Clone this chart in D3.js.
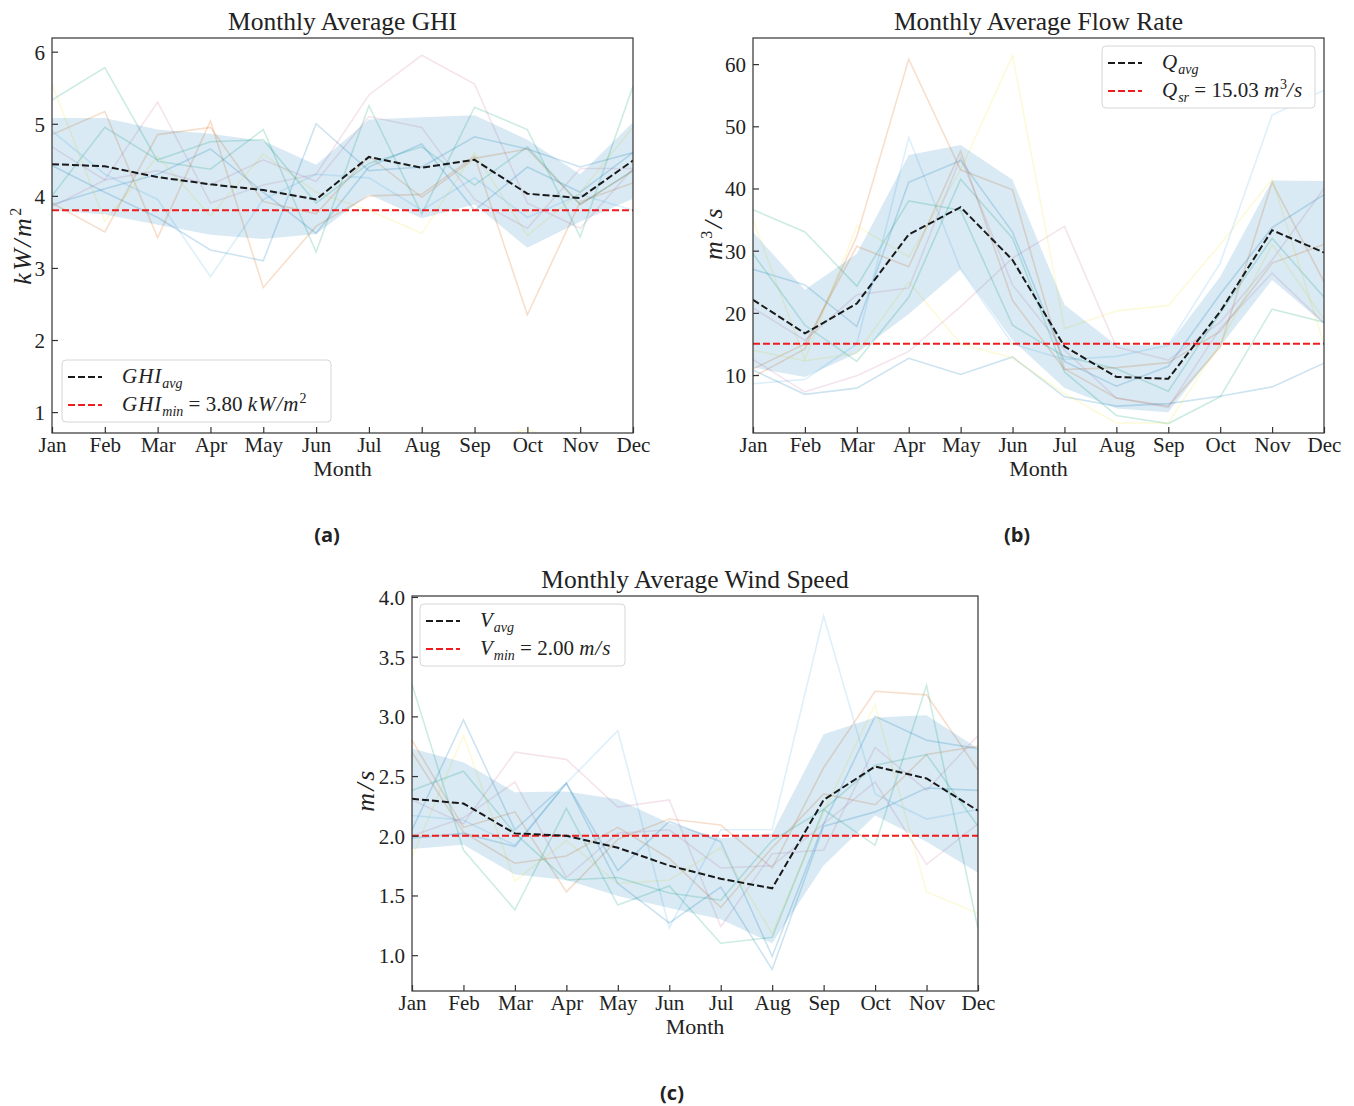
<!DOCTYPE html>
<html>
<head>
<meta charset="utf-8">
<script src="https://cdn.jsdelivr.net/npm/d3@7"></script>
<style>
  html, body { margin: 0; padding: 0; background: #fff; }
  svg text { font-family: "Liberation Serif", "DejaVu Serif", serif; fill: #222; }
  .cap { font-family: "Open Sans", "DejaVu Sans", sans-serif !important; font-weight: 700; }
</style>
</head>
<body>
<div id="app"></div>
<script>
// ---- data ----
const months = ['Jan', 'Feb', 'Mar', 'Apr', 'May', 'Jun', 'Jul', 'Aug', 'Sep', 'Oct', 'Nov', 'Dec'];

// (a) GHI, kW/m2
const ghiAvg = [4.44, 4.41, 4.26, 4.16, 4.08, 3.95, 4.54, 4.39, 4.50, 4.03, 3.97, 4.49];
const ghiStd = [0.64, 0.67, 0.66, 0.70, 0.68, 0.48, 0.52, 0.70, 0.62, 0.75, 0.33, 0.53];
const ghiYears = [
	[3.88, 4.10, 4.30, 4.65, 4.05, 3.48, 4.40, 4.72, 3.80, 4.40, 4.05, 4.60],
	[5.33, 5.78, 4.48, 4.37, 4.92, 3.22, 5.25, 3.75, 5.23, 4.92, 3.43, 5.52],
	[4.85, 5.17, 3.42, 5.04, 2.73, 3.58, 4.00, 4.02, 4.55, 2.35, 3.92, 4.18],
	[4.68, 4.22, 5.30, 3.90, 4.15, 4.30, 5.40, 5.95, 5.55, 3.90, 3.55, 4.38],
	[5.55, 3.65, 4.55, 3.72, 4.58, 4.05, 3.80, 3.48, 4.60, 3.45, 4.05, 4.95],
	[4.90, 4.30, 3.95, 2.88, 3.95, 4.30, 4.25, 3.80, 4.25, 3.70, 4.02, 3.80],
	[4.42, 4.05, 3.70, 3.25, 3.10, 5.00, 4.35, 4.40, 4.82, 4.65, 4.40, 4.60],
	[4.00, 4.95, 4.50, 4.75, 4.78, 3.90, 4.45, 4.68, 4.15, 4.68, 3.88, 4.35],
	[3.90, 3.50, 4.85, 4.95, 3.92, 3.75, 4.55, 3.98, 4.52, 4.65, 3.88, 4.35],
	[3.85, 4.22, 4.35, 4.15, 4.50, 4.20, 5.10, 4.95, 3.95, 3.55, 4.38, 4.38],
	[0.40, 0.40, 0.40, 0.40, 0.40, 0.40, 0.40, 0.40, 0.58, 0.76, 0.50, 0.40]
];
const ghiMin = 3.80;
const ghiTicks = [1, 2, 3, 4, 5, 6];

// (b) flow rate, m3/s
const flowAvg = [22.1, 16.7, 21.5, 32.6, 37.0, 28.5, 14.6, 9.7, 9.4, 20.2, 33.3, 29.7];
const flowStd = [10.9, 7.0, 8.0, 12.8, 10.0, 12.9, 6.7, 5.1, 5.4, 5.6, 8.0, 11.5];
const flowYears = [
	[27.0, 24.5, 17.8, 41.0, 44.5, 33.0, 12.2, 8.2, 11.4, 23.0, 33.7, 39.0],
	[36.6, 33.0, 24.3, 38.0, 36.5, 18.0, 13.0, 11.0, 7.4, 20.0, 32.0, 22.5],
	[9.7, 14.2, 32.3, 60.8, 43.0, 39.8, 11.0, 6.3, 5.0, 14.5, 41.0, 25.0],
	[12.5, 7.3, 9.9, 13.8, 21.0, 28.8, 33.9, 14.5, 12.4, 18.5, 28.5, 40.0],
	[35.0, 12.5, 34.0, 29.0, 43.0, 61.4, 17.5, 20.3, 21.2, 31.0, 41.5, 15.0],
	[8.6, 9.3, 15.0, 48.2, 27.0, 15.0, 12.5, 13.0, 14.8, 28.0, 51.8, 55.8],
	[10.8, 6.9, 7.9, 12.7, 10.1, 12.9, 6.5, 5.0, 5.4, 6.6, 8.1, 11.9],
	[29.5, 18.0, 12.2, 22.5, 41.5, 32.0, 10.5, 3.5, 2.2, 6.5, 20.6, 18.5],
	[11.0, 15.0, 30.7, 27.4, 46.0, 22.0, 10.9, 11.2, 12.0, 17.0, 28.0, 31.0],
	[20.8, 15.6, 22.9, 24.0, 45.0, 24.5, 14.0, 6.3, 4.8, 17.5, 26.4, 18.4],
	[14.0, 12.3, 13.5, 25.0, 15.0, 12.8, 7.0, 2.3, 2.3, 15.0, 31.0, 19.0]
];
const flowSr = 15.03;
const flowTicks = [10, 20, 30, 40, 50, 60];

// (c) wind speed, m/s
const windAvg = [2.31, 2.27, 2.02, 2.00, 1.90, 1.75, 1.64, 1.56, 2.30, 2.58, 2.48, 2.21];
const windStd = [0.42, 0.345, 0.345, 0.37, 0.405, 0.355, 0.34, 0.46, 0.55, 0.41, 0.53, 0.52];
const windYears = [
	[2.05, 2.97, 2.05, 2.44, 1.71, 2.12, 1.95, 0.99, 2.10, 3.00, 2.80, 2.73],
	[3.27, 1.88, 1.38, 2.23, 1.42, 1.58, 1.10, 1.15, 2.22, 1.92, 3.26, 1.22],
	[2.80, 2.07, 2.20, 1.53, 1.97, 2.14, 2.09, 1.73, 2.57, 3.21, 3.18, 2.55],
	[2.30, 2.10, 2.70, 2.64, 2.24, 2.30, 1.24, 1.85, 1.88, 2.74, 2.38, 2.84],
	[1.82, 2.84, 1.62, 1.96, 1.60, 1.63, 1.90, 1.18, 2.20, 3.10, 1.53, 1.35],
	[2.17, 2.13, 1.92, 2.44, 2.88, 1.23, 2.05, 2.05, 3.84, 2.35, 2.14, 2.22],
	[1.98, 2.02, 1.91, 2.44, 1.60, 1.27, 1.57, 0.88, 2.08, 2.20, 2.40, 2.38],
	[2.38, 2.54, 2.02, 1.63, 1.65, 1.52, 1.46, 1.96, 2.22, 2.59, 2.68, 2.08],
	[2.70, 2.03, 1.77, 1.83, 2.07, 1.81, 1.40, 1.90, 2.35, 2.26, 2.68, 2.75],
	[2.00, 2.15, 2.45, 1.65, 2.02, 2.05, 1.73, 1.75, 2.10, 2.45, 1.76, 2.10]
];
const windMin = 2.00;
const windTicks = [1.0, 1.5, 2.0, 2.5, 3.0, 3.5, 4.0];

// seaborn colorblind cycle
const palette = ['#0072B2', '#009E73', '#D55E00', '#CC79A7', '#F0E442', '#56B4E9'];

const W = 1354, H = 1106;
const EQ = '\u2005=\u2005';
const SP = '\u2005';
const svg = d3.select('#app').append('svg')
	.attr('width', W)
	.attr('height', H)
	.attr('viewBox', `0 0 ${W} ${H}`);
svg.append('rect').attr('width', W).attr('height', H).attr('fill', '#fff');

// legend label: base (italic), subscript, rest (array of [text, italic, sup])
function mathLabel (sel, base, sub, rest) {
	sel.append('tspan').attr('font-style', 'italic').attr('letter-spacing', 1).text(base);
	sel.append('tspan').attr('font-style', 'italic').attr('font-size', 14).attr('dy', 5).text(sub);
	let dy = -5;
	(rest || []).forEach(([t, it, sup]) => {
		let ts = sel.append('tspan').text(t);
		if (it) ts.attr('font-style', 'italic').attr('letter-spacing', 1);
		if (sup) {
			ts.attr('font-size', 14).attr('dy', dy - 8);
			dy = 8;
		} else {
			ts.attr('dy', dy);
			dy = 0;
		}
	});
}

function drawPanel (cfg) {
	const { left, top, width, height } = cfg;
	const g = svg.append('g').attr('transform', `translate(${left},${top})`);

	const x = d3.scalePoint().domain(months).range([0, width]);
	const y = d3.scaleLinear().domain(cfg.domain).range([height, 0]);

	const clipId = 'clip-' + cfg.id;
	g.append('clipPath').attr('id', clipId)
		.append('rect').attr('width', width).attr('height', height);
	const plot = g.append('g').attr('clip-path', `url(#${clipId})`);

	// individual years
	const line = d3.line().x((d, i) => x(months[i])).y(d => y(d));
	plot.selectAll('path.year')
		.data(cfg.years)
		.enter().append('path')
			.attr('class', 'year')
			.attr('d', line)
			.attr('fill', 'none')
			.attr('stroke', (d, i) => palette[i % palette.length])
			.attr('stroke-opacity', 0.2)
			.attr('stroke-width', 1.6);

	// mean +/- std band
	const area = d3.area()
		.x((d, i) => x(months[i]))
		.y0((d, i) => y(d - cfg.std[i]))
		.y1((d, i) => y(d + cfg.std[i]));
	plot.append('path')
		.attr('d', area(cfg.avg))
		.attr('fill', '#0072B2')
		.attr('fill-opacity', 0.15);

	// threshold + avg
	plot.append('line')
		.attr('x1', 0).attr('x2', width)
		.attr('y1', y(cfg.threshold)).attr('y2', y(cfg.threshold))
		.attr('stroke', '#ee1c1c')
		.attr('stroke-width', 2)
		.attr('stroke-dasharray', '7,3');
	plot.append('path')
		.attr('d', line(cfg.avg))
		.attr('fill', 'none')
		.attr('stroke', '#1a1a1a')
		.attr('stroke-width', 2)
		.attr('stroke-dasharray', '7,3');

	// axes, ticks pointing in
	const xAxis = d3.axisBottom(x).tickSizeInner(-6).tickSizeOuter(0).tickPadding(4);
	const yAxis = d3.axisLeft(y).tickValues(cfg.ticks).tickFormat(cfg.fmt)
		.tickSizeInner(-6).tickSizeOuter(0).tickPadding(7);
	const gx = g.append('g').attr('transform', `translate(0,${height})`).call(xAxis);
	const gy = g.append('g').call(yAxis);
	[gx, gy].forEach(a => {
		a.select('.domain').remove();
		a.selectAll('line').attr('stroke', '#333').attr('stroke-width', 1.2);
		a.selectAll('text')
			.attr('font-family', '"Liberation Serif", serif')
			.attr('font-size', 21)
			.attr('fill', '#222');
	});
	gx.selectAll('text').attr('dy', '0.72em');
	gy.selectAll('text').attr('dy', '0.35em');

	g.append('rect')
		.attr('width', width).attr('height', height)
		.attr('fill', 'none').attr('stroke', '#333').attr('stroke-width', 1.2);

	// titles
	g.append('text')
		.attr('x', width / 2).attr('y', -8)
		.attr('text-anchor', 'middle')
		.attr('font-size', 25.5)
		.text(cfg.title);
	g.append('text')
		.attr('x', width / 2).attr('y', height + 43)
		.attr('text-anchor', 'middle')
		.attr('font-size', 22)
		.text('Month');
	const yl = g.append('text')
		.attr('transform', `translate(${cfg.ylabelX},${cfg.ylabelY}) rotate(-90)`)
		.attr('text-anchor', 'middle')
		.attr('font-size', 26)
		.attr('letter-spacing', 2.5);
	cfg.ylabel(yl);

	// legend
	const lg = g.append('g').attr('transform', `translate(${cfg.legend[0]},${cfg.legend[1]})`);
	lg.append('rect')
		.attr('width', cfg.legendW).attr('height', 62).attr('rx', 4)
		.attr('fill', '#fff').attr('fill-opacity', 0.85)
		.attr('stroke', '#d6d6d6').attr('stroke-width', 1);
	[['#1a1a1a', 17], ['#ee1c1c', 45]].forEach(([c, ly], i) => {
		lg.append('line')
			.attr('x1', 6).attr('x2', 40).attr('y1', ly).attr('y2', ly)
			.attr('stroke', c).attr('stroke-width', 2).attr('stroke-dasharray', '7,3');
		const t = lg.append('text').attr('x', 60).attr('y', ly + 6).attr('font-size', 21);
		cfg.legendText[i](t);
	});
}

drawPanel({
	id: 'a', left: 52, top: 38, width: 581, height: 395,
	domain: [0.71, 6.19], ticks: ghiTicks, fmt: d3.format('d'),
	years: ghiYears, avg: ghiAvg, std: ghiStd, threshold: ghiMin,
	title: 'Monthly Average GHI',
	ylabelX: -21, ylabelY: 207,
	ylabel: t => {
		t.append('tspan').attr('font-style', 'italic').text('kW/m');
		t.append('tspan').attr('font-size', 16).attr('dy', -10).text('2');
	},
	legend: [10, 322], legendW: 269,
	legendText: [
		t => mathLabel(t, 'GHI', 'avg'),
		t => mathLabel(t, 'GHI', 'min', [[EQ + '3.80' + SP], ['kW/m', true], ['2', false, true]])
	]
});

drawPanel({
	id: 'b', left: 753, top: 38, width: 571, height: 395,
	domain: [0.68, 64.2], ticks: flowTicks, fmt: d3.format('d'),
	years: flowYears, avg: flowAvg, std: flowStd, threshold: flowSr,
	title: 'Monthly Average Flow Rate',
	ylabelX: -31, ylabelY: 195,
	ylabel: t => {
		t.append('tspan').attr('font-style', 'italic').text('m');
		t.append('tspan').attr('font-size', 16).attr('dy', -10).text('3');
		t.append('tspan').attr('font-style', 'italic').attr('dy', 10).text('/s');
	},
	legend: [349, 8], legendW: 213,
	legendText: [
		t => mathLabel(t, 'Q', 'avg'),
		t => mathLabel(t, 'Q', 'sr', [[EQ + '15.03' + SP], ['m', true], ['3', false, true], ['/s', true]])
	]
});

drawPanel({
	id: 'c', left: 412, top: 596, width: 566, height: 395,
	domain: [0.70, 4.008], ticks: windTicks, fmt: d3.format('.1f'),
	years: windYears, avg: windAvg, std: windStd, threshold: windMin,
	title: 'Monthly Average Wind Speed',
	ylabelX: -38, ylabelY: 194,
	ylabel: t => t.append('tspan').attr('font-style', 'italic').text('m/s'),
	legend: [8, 8], legendW: 205,
	legendText: [
		t => mathLabel(t, 'V', 'avg'),
		t => mathLabel(t, 'V', 'min', [[EQ + '2.00' + SP], ['m/s', true]])
	]
});

// subfigure captions
[['(a)', 327, 542], ['(b)', 1017, 542], ['(c)', 672, 1100]].forEach(([t, cx, cy]) => {
	svg.append('text')
		.attr('class', 'cap')
		.attr('x', cx).attr('y', cy)
		.attr('text-anchor', 'middle')
		.attr('font-size', 20)
		.text(t);
});
</script>
</body>
</html>
